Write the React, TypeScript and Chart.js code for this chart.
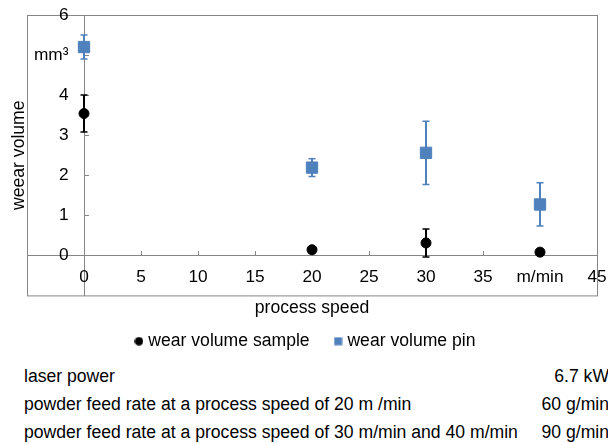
import React, { useEffect, useRef } from 'react';
import { Chart, registerables } from 'chart.js';

Chart.register(...registerables);

const FONT = "'Liberation Sans', Arial, Helvetica, sans-serif";
const TEXT_SIZE = 17.6;
const TICK_SIZE = 17.3;

// ---- data ----
const speeds = [0, 20, 30, 40];
const sampleVolume = [3.54, 0.14, 0.31, 0.08];
const sampleError = [0.46, 0.05, 0.35, 0.05];
const pinVolume = [5.2, 2.19, 2.56, 1.27];
const pinError = [0.3, 0.22, 0.79, 0.54];

const xTickValues = [0, 5, 10, 15, 20, 25, 30, 35, 40, 45];
const xTickLabels = ['0', '5', '10', '15', '20', '25', '30', '35', 'm/min', '45'];
const yTickValues = [0, 1, 2, 3, 4, 5, 6];
const yTickLabels = ['0', '1', '2', '3', '4', 'mm³', '6'];

const seriesLabels = ['wear volume sample', 'wear volume pin'];
const xTitle = 'process speed';
const yTitle = 'weear volume';

const paramNames = [
  'laser power',
  'powder feed rate at a process speed of 20 m /min',
  'powder feed rate at a process speed of 30 m/min and 40 m/min',
];
const paramValues = ['6.7 kW', '60 g/min', '90 g/min'];

const BLUE = '#4f81bd';
const AXIS_GRAY = '#868686';

const errorBarPlugin = {
  id: 'errorBars',
  beforeDatasetsDraw(chart: any) {
    const { ctx } = chart;
    const xs = chart.scales.x;
    const ys = chart.scales.y;
    chart.data.datasets.forEach((ds: any) => {
      const errs = ds.errorBars;
      if (!errs) return;
      ctx.save();
      ctx.strokeStyle = ds.errorColor;
      const cap = 3.5;
      ds.data.forEach((p: any, j: number) => {
        const x = xs.getPixelForValue(p.x);
        const yt = ys.getPixelForValue(p.y + errs[j]);
        const yb = ys.getPixelForValue(p.y - errs[j]);
        ctx.lineWidth = 2;
        ctx.beginPath();
        ctx.moveTo(x, yt);
        ctx.lineTo(x, yb);
        ctx.stroke();
        ctx.lineWidth = 1.5;
        ctx.beginPath();
        ctx.moveTo(x - cap, yt);
        ctx.lineTo(x + cap, yt);
        ctx.moveTo(x - cap, yb);
        ctx.lineTo(x + cap, yb);
        ctx.stroke();
      });
      ctx.restore();
    });
  },
};

// frame around the plot, axis tick labels next to the crossing axes, x-axis title
const framePlugin = {
  id: 'frameAndLabels',
  beforeDatasetsDraw(chart: any) {
    const { ctx, chartArea: a } = chart;
    ctx.save();
    ctx.strokeStyle = AXIS_GRAY;
    ctx.lineWidth = 1;
    ctx.strokeRect(a.left + 0.5, a.top + 0.5, a.right - a.left, a.bottom - a.top);
    ctx.restore();
  },
  afterDraw(chart: any) {
    const { ctx, chartArea: a } = chart;
    const xs = chart.scales.x;
    const ys = chart.scales.y;
    const x0 = xs.getPixelForValue(0);
    const y0 = ys.getPixelForValue(0);
    ctx.save();
    ctx.font = `${TICK_SIZE}px ${FONT}`;
    ctx.fillStyle = '#000';
    ctx.textAlign = 'center';
    ctx.textBaseline = 'middle';
    xTickValues.forEach((v, i) => {
      ctx.fillText(xTickLabels[i], xs.getPixelForValue(v), y0 + 22);
    });
    ctx.textAlign = 'right';
    yTickValues.forEach((v, i) => {
      ctx.fillText(yTickLabels[i], x0 - 15.5, ys.getPixelForValue(v));
    });
    ctx.font = `${TEXT_SIZE}px ${FONT}`;
    ctx.textAlign = 'center';
    ctx.textBaseline = 'alphabetic';
    ctx.fillText(xTitle, (a.left + a.right) / 2, a.bottom + 17.5);
    ctx.restore();
  },
};

function makeMarker(kind: 'circle' | 'rect', color: string) {
  const c = document.createElement('canvas');
  c.width = 9;
  c.height = 9;
  const g = c.getContext('2d')!;
  g.fillStyle = color;
  if (kind === 'circle') {
    g.beginPath();
    g.arc(4.5, 4.5, 4.3, 0, Math.PI * 2);
    g.fill();
  } else {
    g.fillRect(0.5, 0.5, 8, 8);
  }
  return c;
}

export default function App() {
  const ref = useRef<HTMLCanvasElement | null>(null);

  useEffect(() => {
    if (!ref.current) return;
    Chart.defaults.font.family = FONT;
    Chart.defaults.font.size = TEXT_SIZE;
    Chart.defaults.color = '#000';

    const markers = [makeMarker('circle', '#000'), makeMarker('rect', BLUE)];

    const axisCommon = (min: number, max: number, pos: any, values: number[]) => ({
      type: 'linear',
      min,
      max,
      position: pos,
      afterBuildTicks: (s: any) => {
        s.ticks = values.map((v) => ({ value: v }));
      },
      ticks: { display: false, autoSkip: false },
      grid: {
        display: true,
        drawOnChartArea: false,
        drawTicks: true,
        tickLength: -5,
        color: AXIS_GRAY,
      },
      border: { display: true, color: AXIS_GRAY, width: 1 },
    });

    const chart = new Chart(ref.current, {
      type: 'scatter',
      data: {
        datasets: [
          {
            label: seriesLabels[0],
            data: speeds.map((x, i) => ({ x, y: sampleVolume[i] })),
            errorBars: sampleError,
            errorColor: '#000',
            pointStyle: 'circle',
            pointRadius: 5,
            pointBorderWidth: 1,
            backgroundColor: '#000',
            borderColor: '#000',
            xAxisID: 'x',
            yAxisID: 'y',
          } as any,
          {
            label: seriesLabels[1],
            data: speeds.map((x, i) => ({ x, y: pinVolume[i] })),
            errorBars: pinError,
            errorColor: BLUE,
            pointStyle: 'rect',
            pointRadius: 8,
            pointBorderWidth: 1,
            backgroundColor: BLUE,
            borderColor: BLUE,
            xAxisID: 'x',
            yAxisID: 'y',
          } as any,
        ],
      },
      options: {
        animation: false,
        responsive: false,
        layout: { padding: { top: 15, left: 6, right: 0, bottom: 0 } },
        plugins: {
          tooltip: { enabled: false },
          legend: {
            position: 'bottom',
            labels: {
              usePointStyle: true,
              boxWidth: 1,
              boxHeight: 8,
              padding: 28,
              color: '#000',
              font: { size: TEXT_SIZE, family: FONT },
              generateLabels: (c: any) =>
                c.data.datasets.map((ds: any, i: number) => ({
                  text: ds.label,
                  pointStyle: markers[i],
                  fillStyle: ds.backgroundColor,
                  strokeStyle: ds.borderColor,
                  lineWidth: 0,
                  hidden: false,
                  datasetIndex: i,
                  fontColor: '#000',
                })),
            },
          },
        },
        scales: {
          x: axisCommon(-5, 45, { y: 0 }, xTickValues),
          y: axisCommon(-1, 6, { x: 0 }, yTickValues),
          yTitleAxis: {
            type: 'linear',
            axis: 'y',
            position: 'left',
            display: true,
            ticks: { display: false },
            grid: { display: false, drawTicks: false },
            border: { display: false },
            title: {
              display: true,
              text: yTitle,
              color: '#000',
              font: { size: TEXT_SIZE, family: FONT },
              padding: { top: 2.4, bottom: 0 },
            },
            afterFit: (s: any) => {
              s.width = 21;
            },
          },
          rightGap: {
            type: 'linear',
            axis: 'y',
            position: 'right',
            display: true,
            ticks: { display: false },
            grid: { display: false, drawTicks: false },
            border: { display: false },
            afterFit: (s: any) => {
              s.width = 11;
            },
          },
          bottomGap: {
            type: 'linear',
            axis: 'x',
            position: 'bottom',
            display: true,
            ticks: { display: false },
            grid: { display: false, drawTicks: false },
            border: { display: false },
            afterFit: (s: any) => {
              s.height = 9;
            },
          },
        } as any,
      },
      plugins: [errorBarPlugin, framePlugin],
    } as any);

    return () => chart.destroy();
  }, []);

  const textStyle: React.CSSProperties = {
    fontFamily: FONT,
    fontSize: TEXT_SIZE,
    lineHeight: '28px',
    color: '#000',
    whiteSpace: 'nowrap',
  };

  return (
    <div
      style={{
        position: 'fixed',
        left: 0,
        top: 0,
        width: 608,
        height: 443,
        overflow: 'hidden',
        background: '#fff',
      }}
    >
      <canvas ref={ref} width={608} height={360} style={{ position: 'absolute', left: 0, top: 0, width: 608, height: 360 }} />
      <div style={{ ...textStyle, position: 'absolute', left: 24, top: 362 }}>
        {paramNames.map((t) => (
          <div key={t}>{t}</div>
        ))}
      </div>
      <div style={{ ...textStyle, position: 'absolute', left: 0, width: 609, top: 362, textAlign: 'right' }}>
        {paramValues.map((t) => (
          <div key={t}>{t}</div>
        ))}
      </div>
    </div>
  );
}
